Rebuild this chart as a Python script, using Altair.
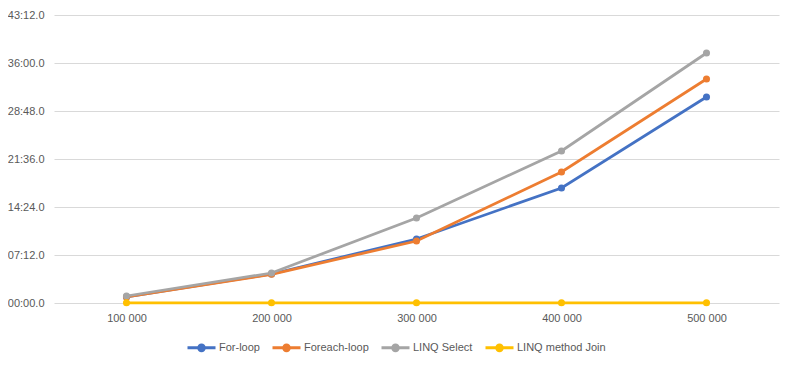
import altair as alt
import pandas as pd

categories = ["100 000", "200 000", "300 000", "400 000", "500 000"]
series = ["For-loop", "Foreach-loop", "LINQ Select", "LINQ method Join"]
# times in seconds
for_loop = [54, 261, 576, 1035, 1854]
foreach_loop = [54, 258, 558, 1179, 2016]
linq_select = [63, 270, 765, 1368, 2250]
linq_join = [1.5, 1.5, 1.5, 1.5, 1.5]
colors = ["#4472C4", "#ED7D31", "#A5A5A5", "#FFC000"]
y_ticks = [0, 432, 864, 1296, 1728, 2160, 2592]

rows = []
for name, vals in zip(series, [for_loop, foreach_loop, linq_select, linq_join]):
    for c, v in zip(categories, vals):
        rows.append({"size": c, "seconds": v, "series": name})
df = pd.DataFrame(rows)

font = "Liberation Sans"
txt = "#595959"

chart = alt.Chart(df).mark_line(
    strokeWidth=2.75,
    point=alt.OverlayMarkDef(size=50, filled=True),
).encode(
    x=alt.X("size:N", sort=categories,
            scale=alt.Scale(paddingOuter=0.5),
            axis=alt.Axis(title=None, labelAngle=0, domain=False, ticks=False,
                          labelPadding=9, labelColor=txt, labelFontSize=11,
                          labelFont=font, grid=False)),
    y=alt.Y("seconds:Q",
            scale=alt.Scale(domain=[0, 2592], nice=False, zero=True),
            axis=alt.Axis(title=None, values=y_ticks,
                          labelExpr="utcFormat(datum.value*1000, '%M:%S.0')",
                          domain=False, ticks=False, labelPadding=10,
                          labelColor=txt, labelFontSize=11, labelFont=font,
                          gridColor="#d9d9d9", gridWidth=1)),
    color=alt.Color("series:N", sort=series,
                    scale=alt.Scale(domain=series, range=colors),
                    legend=alt.Legend(
                        title=None, orient="none", direction="horizontal",
                        legendX=132, legendY=317,
                        symbolType="M-1,0L1,0M0.2,0A0.2,0.2 0 1 1 -0.2,0A0.2,0.2 0 1 1 0.2,0Z",
                        symbolSize=784, symbolStrokeWidth=3,
                        labelFontSize=11, labelColor=txt, labelFont=font,
                        columnPadding=6, labelOffset=2)),
).properties(
    width=725,
    height=288,
    autosize=alt.AutoSizeParams(type="none"),
    padding={"left": 46, "top": 7, "right": 9, "bottom": 55},
).configure_view(stroke=None)

chart.save("out.html", embed_options={"renderer": "svg", "actions": False})
